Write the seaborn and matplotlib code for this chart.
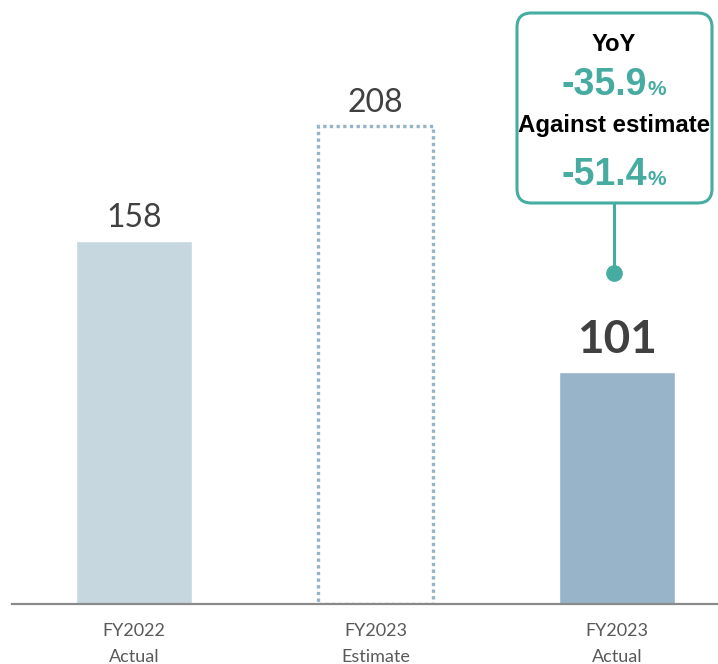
import seaborn as sns
import matplotlib.pyplot as plt
import pandas as pd
from matplotlib.patches import FancyBboxPatch

# data
labels = ['FY2022\nActual', 'FY2023\nEstimate', 'FY2023\nActual']
values = [158, 208, 101]
bar_colors = ['#c6d7e0', '#ffffff', '#98b4c9']
yoy = '-35.9'
vs_estimate = '-51.4'

teal = '#46aca1'

sns.set_theme(style='white')
plt.rcParams['font.family'] = ['Lato', 'DejaVu Sans']

df = pd.DataFrame({'label': labels, 'value': values})

fig = plt.figure(figsize=(7.18, 6.64), dpi=100)
ax = fig.add_axes([12 / 718, 60 / 664, 706 / 718, 604 / 664])

sns.barplot(data=df, x='label', y='value', hue='label', palette=bar_colors,
            width=0.48, saturation=1, legend=False, ax=ax)

# estimate bar is drawn as dotted outline only
est = ax.patches[1]
est.set_facecolor('none')
est.set_edgecolor('#95b3c8')
est.set_linewidth(2.4)
est.set_linestyle((0, (1, 1)))

ax.set_xlim(-0.505, 2.418)
ax.set_ylim(0, 263)
ax.set_xlabel('')
ax.set_ylabel('')
ax.set_yticks([])
sns.despine(ax=ax, left=True)
ax.spines['bottom'].set_color('#8a8a8a')
ax.spines['bottom'].set_linewidth(1.6)
ax.tick_params(axis='x', length=0, pad=14, labelsize=13, labelcolor='#595959')
for t in ax.get_xticklabels():
    t.set_linespacing(1.7)

# value labels
for i, v in enumerate(values):
    if i == 2:
        ax.annotate(str(v), (i, v), xytext=(0, 14), textcoords='offset points',
                    ha='center', va='baseline', fontsize=33, fontweight='bold',
                    color='#404040')
    else:
        ax.annotate(str(v), (i, v), xytext=(0, 10), textcoords='offset points',
                    ha='center', va='baseline', fontsize=23, color='#404040')

# callout box
box = FancyBboxPatch((517 / 718, (664 - 203) / 664), 195 / 718, 190 / 664,
                     boxstyle='round,pad=0,rounding_size=0.02',
                     mutation_aspect=718 / 664, transform=fig.transFigure,
                     facecolor='white', edgecolor=teal, linewidth=2.2)
fig.patches.append(box)

ax.plot([1.988, 1.988], [175, 144], color=teal, lw=2.2, clip_on=False)
ax.plot([1.988], [144], marker='o', ms=11, color=teal, clip_on=False)

def px(x, y):
    return x / 718, (664 - y) / 664

arial = ['Liberation Sans', 'DejaVu Sans']
fig.text(*px(614, 51), 'YoY', ha='center', va='baseline', fontsize=17,
         fontweight='bold', family=arial, color='black')
fig.text(*px(647, 95), yoy, ha='right', va='baseline', fontsize=27,
         fontweight='bold', family=arial, color=teal)
fig.text(*px(647, 95), '%', ha='left', va='baseline', fontsize=15,
         fontweight='bold', family=arial, color=teal)
fig.text(*px(614, 132), 'Against estimate', ha='center', va='baseline',
         fontsize=17.3, fontweight='bold', family=arial, color='black')
fig.text(*px(647, 185), vs_estimate, ha='right', va='baseline', fontsize=27,
         fontweight='bold', family=arial, color=teal)
fig.text(*px(647, 185), '%', ha='left', va='baseline', fontsize=15,
         fontweight='bold', family=arial, color=teal)

fig.savefig('out.png', dpi=100)
